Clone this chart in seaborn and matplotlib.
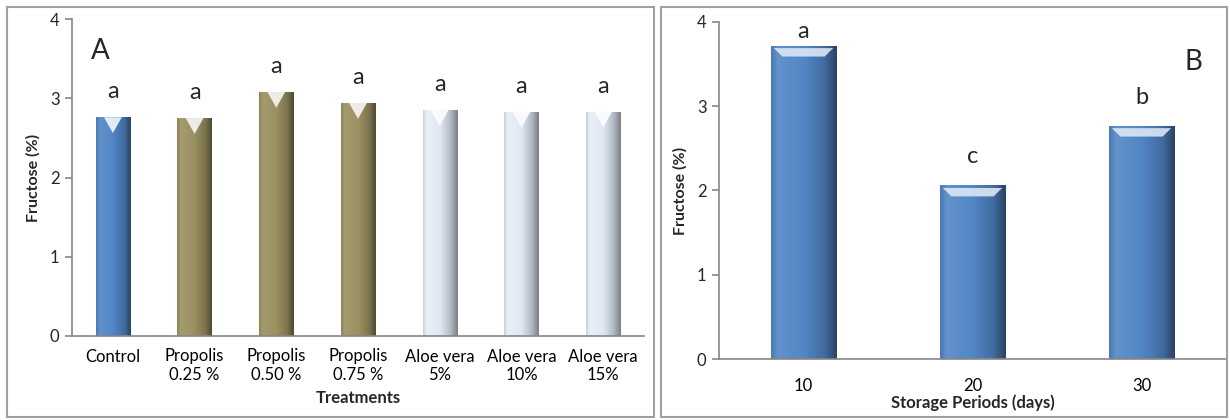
import numpy as np
import pandas as pd
import matplotlib
matplotlib.use("Agg")
import matplotlib.pyplot as plt
import seaborn as sns
from matplotlib.colors import LinearSegmentedColormap, to_rgb
from matplotlib.patches import Rectangle, Polygon

# ---- data ----
treatments = ["Control", "Propolis\n0.25 %", "Propolis\n0.50 %", "Propolis\n0.75 %",
              "Aloe vera\n5%", "Aloe vera\n10%", "Aloe vera\n15%"]
fructose_treat = [2.76, 2.75, 3.08, 2.94, 2.85, 2.83, 2.83]
letters_treat = ["a", "a", "a", "a", "a", "a", "a"]

periods = ["10", "20", "30"]
fructose_period = [3.72, 2.06, 2.77]
letters_period = ["a", "c", "b"]

treat_colors = ["#5085c4", "#9a9060", "#9a9060", "#9a9060", "#dde6f1", "#dde6f1", "#dde6f1"]
period_color = "#5286c6"

sns.set_theme(style="white")
plt.rcParams["font.family"] = ["Lato", "DejaVu Sans"]

fig = plt.figure(figsize=(12.3, 4.2), dpi=100)

# panel frames
fig.add_artist(Rectangle((7/1230, 3/420), (654-7)/1230, (413-3)/420, transform=fig.transFigure,
                         fill=False, edgecolor="#a0a0a0", linewidth=1.5))
fig.add_artist(Rectangle((661/1230, 3/420), (1227-661)/1230, (413-3)/420, transform=fig.transFigure,
                         fill=False, edgecolor="#a0a0a0", linewidth=1.5))

axA = fig.add_axes([72/1230, 1-336/420, (644-72)/1230, (336-19)/420])
axB = fig.add_axes([719/1230, 1-359/420, (1226-719)/1230, (359-22)/420])


def shade(c, f):
    r = np.array(to_rgb(c))
    if f >= 0:
        return tuple(r + (1 - r) * f)
    return tuple(r * (1 + f))


def bevel(ax, patch, color, style, light=False):
    x0, y0 = patch.get_x(), patch.get_y()
    w, h = patch.get_width(), patch.get_height()
    if light:
        stops = [(0, shade(color, -0.1)), (0.1, shade(color, 0.4)), (0.5, shade(color, 0.05)),
                 (0.8, shade(color, -0.2)), (1, shade(color, -0.45))]
    else:
        stops = [(0, shade(color, -0.1)), (0.1, shade(color, 0.1)), (0.5, shade(color, 0.0)),
                 (0.82, shade(color, -0.2)), (1, shade(color, -0.5))]
    cmap = LinearSegmentedColormap.from_list("g", stops)
    grad = np.linspace(0, 1, 200).reshape(1, -1)
    im = ax.imshow(grad, cmap=cmap, extent=(x0, x0 + w, y0, y0 + h), aspect="auto",
                   zorder=patch.get_zorder() + 0.1, interpolation="bicubic")
    im.set_clip_path(patch)
    ylim = ax.get_ylim()
    if style == "chevron":
        dy = 0.2
        tri = Polygon([(x0 + w * 0.24, y0 + h), (x0 + w * 0.76, y0 + h), (x0 + w * 0.5, y0 + h - dy)],
                      closed=True, facecolor=shade(color, 0.88), edgecolor="none",
                      zorder=patch.get_zorder() + 0.2, alpha=0.95)
        ax.add_patch(tri)
    else:
        dy = 0.1
        trap = Polygon([(x0 + w * 0.05, y0 + h - 0.03), (x0 + w * 0.95, y0 + h - 0.03),
                        (x0 + w * 0.82, y0 + h - 0.03 - dy), (x0 + w * 0.18, y0 + h - 0.03 - dy)],
                       closed=True, facecolor=shade(color, 0.8), edgecolor="none",
                       zorder=patch.get_zorder() + 0.2, alpha=0.9)
        ax.add_patch(trap)
    ax.set_ylim(ylim)


def style_axes(ax, n, pad):
    ax.set_ylim(0, 4)
    ax.set_xlim(-0.5, n - 0.5)
    ax.set_yticks([0, 1, 2, 3, 4])
    for s in ["top", "right"]:
        ax.spines[s].set_visible(False)
    for s in ["left", "bottom"]:
        ax.spines[s].set_color("#868686")
        ax.spines[s].set_linewidth(1.2)
    ax.set_xticks(np.arange(-0.5, n, 1.0), minor=True)
    ax.tick_params(axis="x", which="major", length=0, labelsize=12, pad=pad, colors="black")
    ax.tick_params(axis="x", which="minor", length=5, width=1.2, color="#868686", direction="out")
    ax.tick_params(axis="y", length=5, width=1.2, color="#868686", direction="out", labelsize=12, pad=4,
                   left=True)
    ax.set_ylabel("Fructose (%)", fontsize=11.5, fontweight="bold", labelpad=7)


# ---- Panel A ----
dfA = pd.DataFrame({"Treatment": treatments, "Fructose": fructose_treat})
sns.barplot(data=dfA, x="Treatment", y="Fructose", hue="Treatment", palette=treat_colors,
            legend=False, width=0.42, ax=axA, edgecolor="none", saturation=1)
style_axes(axA, len(treatments), pad=9)
for i, (p, c) in enumerate(zip(axA.patches, treat_colors)):
    bevel(axA, p, c, "chevron", light=(i >= 4))
for i, (v, l) in enumerate(zip(fructose_treat, letters_treat)):
    axA.text(i, v + 0.32, l, ha="center", va="center", fontsize=17)
axA.set_xlabel("Treatments", fontsize=12, fontweight="bold", labelpad=5)
axA.text(0.05, 0.9, "A", transform=axA.transAxes, fontsize=20, ha="center", va="center")

# ---- Panel B ----
dfB = pd.DataFrame({"Period": periods, "Fructose": fructose_period})
sns.barplot(data=dfB, x="Period", y="Fructose", color=period_color, width=0.39, ax=axB,
            edgecolor="none", saturation=1)
style_axes(axB, len(periods), pad=14)
for p in axB.patches:
    bevel(axB, p, period_color, "band")
offsets_B = [0.17, 0.34, 0.33]
for i, (v, l, o) in enumerate(zip(fructose_period, letters_period, offsets_B)):
    axB.text(i, v + o, l, ha="center", va="center", fontsize=17)
axB.set_xlabel("Storage Periods (days)", fontsize=12, fontweight="bold", labelpad=0)
axB.text(0.935, 0.88, "B", transform=axB.transAxes, fontsize=20, ha="center", va="center")

fig.savefig("out.png", dpi=100)
